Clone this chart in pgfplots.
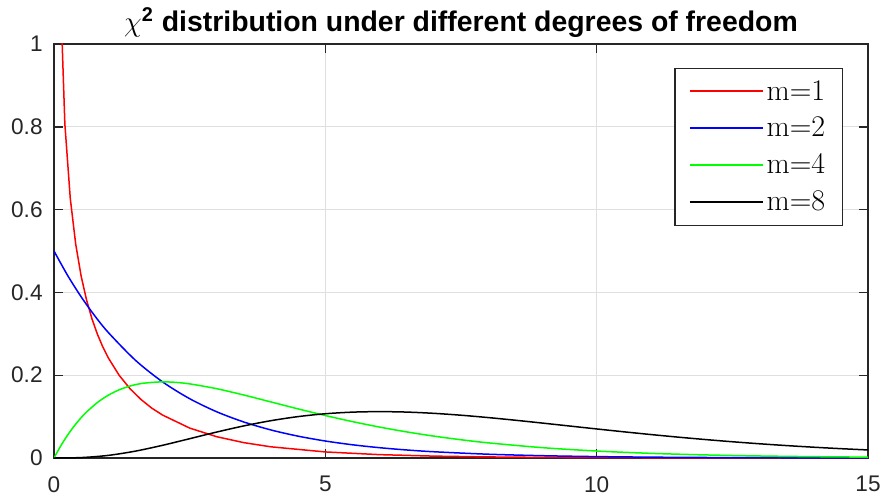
\documentclass[border=0pt]{standalone}
\usepackage[no-math]{fontspec}
\setmainfont{Liberation Sans}
\usepackage{pgfplots}
\pgfplotsset{compat=1.18}
\newcommand\lmr{\fontfamily{lmr}\selectfont}
\definecolor{axc}{RGB}{38,38,38}
\definecolor{gridc}{RGB}{223,223,223}
\begin{document}
\begin{tikzpicture}
\begin{axis}[
  name=ax,
  scale only axis,
  width=407pt, height=207pt,
  xmin=0, xmax=15, ymin=0, ymax=1,
  xtick={0,5,10,15},
  ytick={0,0.2,0.4,0.6,0.8,1},
  grid=major,
  major grid style={draw=gridc, line width=0.5pt},
  axis line style={draw=axc, line width=0.7pt},
  tick style={draw=axc, line width=0.7pt},
  major tick length=4.5pt,
  tick align=inside,
  /pgf/number format/assume math mode=true,
  tick label style={font=\fontsize{11.3}{13}\selectfont, text=axc},
  xticklabel style={inner sep=0pt, anchor=north, yshift=-9pt},
  yticklabel style={inner sep=0pt, anchor=east, xshift=-5.5pt},
  title={\textbf{\raisebox{0pt}{\fontsize{15}{16}\selectfont$\chi$}\textsuperscript{2} distribution under different degrees of freedom}},
  title style={font=\fontsize{14.2}{16}\selectfont, at={(0.5,1)}, anchor=base, yshift=0pt, inner sep=0pt},
  legend style={draw=axc, line width=0.6pt, at={(rel axis cs:0.969,0.942)}, anchor=north east,
    inner xsep=7pt, inner ysep=4.3pt, row sep=4pt,
    font=\lmr\fontsize{15}{18}\selectfont,
    nodes={inner sep=1.5pt}},
  legend cell align=left,
  legend image code/.code={\draw[#1, line width=0.8pt] (0pt,0.3pt) -- (36.5pt,0.3pt);},
  every axis plot/.append style={line width=0.75pt},
]
\addplot[color=red] coordinates {
(0.1,1.2000) (0.2,0.80717) (0.3,0.62691) (0.4,0.51644) (0.5,0.43939) (0.6,0.38155)
(0.7,0.33601) (0.8,0.29898) (0.9,0.26813) (1.0,0.24197) (1.2,0.19987) (1.4,0.16743)
(1.6,0.14171) (1.8,0.12060) (2.0,0.10378) (2.5,0.07229) (3.0,0.05139) (3.5,0.03706)
(4.0,0.02700) (5.0,0.01465) (6.0,0.00811) (7.0,0.00455) (8.0,0.00258) (9.0,0.00148)
(10.0,0.00085) (12.0,0.00029) (15.0,0.00006)};
\addlegendentry{m=1}
\addplot[color=blue, smooth] coordinates {
(0,0.5) (0.25,0.44125) (0.5,0.38940) (0.75,0.34364) (1,0.30327) (1.5,0.23618)
(2,0.18394) (2.5,0.14325) (3,0.11157) (3.5,0.08689) (4,0.06767) (4.5,0.05270)
(5,0.04104) (5.5,0.03196) (6,0.02489) (6.5,0.01939) (7,0.01510) (8,0.00916)
(9,0.00555) (10,0.00337) (11,0.00204) (12,0.00124) (13,0.00075) (14,0.00046) (15,0.00028)};
\addlegendentry{m=2}
\addplot[color=green, smooth] coordinates {
(0,0) (0.1,0.02378) (0.2,0.04524) (0.3,0.06455) (0.4,0.08187) (0.5,0.09735)
(0.6,0.11112) (0.8,0.13406) (1.0,0.15163) (1.2,0.16464) (1.4,0.17380) (1.6,0.17973)
(1.8,0.18251) (2.0,0.18394) (2.2,0.18308) (2.5,0.17907) (3.0,0.16735) (3.5,0.15205)
(4.0,0.13534) (4.5,0.11857) (5.0,0.10261) (5.5,0.08790) (6.0,0.07468) (6.5,0.06301)
(7.0,0.05284) (7.5,0.04410) (8.0,0.03663) (9.0,0.02500) (10,0.01684) (11,0.01124)
(12,0.00744) (13,0.00489) (14,0.00319) (15,0.00207)};
\addlegendentry{m=4}
\addplot[color=black, smooth] coordinates {
(0,0) (0.5,0.001014) (1,0.006318) (1.5,0.016607) (2,0.030657) (2.5,0.046632)
(3,0.062755) (3.5,0.077610) (4,0.090223) (4.5,0.100047) (5,0.106882) (5.5,0.110792)
(6,0.112021) (6.5,0.110920) (7,0.107891) (7.5,0.103351) (8,0.097685) (8.5,0.091249)
(9,0.084359) (9.5,0.077271) (10,0.070188) (10.5,0.063284) (11,0.056665) (11.5,0.050427)
(12,0.044622) (12.5,0.039266) (13,0.034397) (13.5,0.030011) (14,0.026068) (14.5,0.022547)
(15,0.019441)};
\addlegendentry{m=8}
\end{axis}
\pgfresetboundingbox
\path[use as bounding box] ([shift={(-27pt,-20.5pt)}]ax.south west) rectangle ([shift={(7pt,22pt)}]ax.north east);
\end{tikzpicture}
\end{document}
